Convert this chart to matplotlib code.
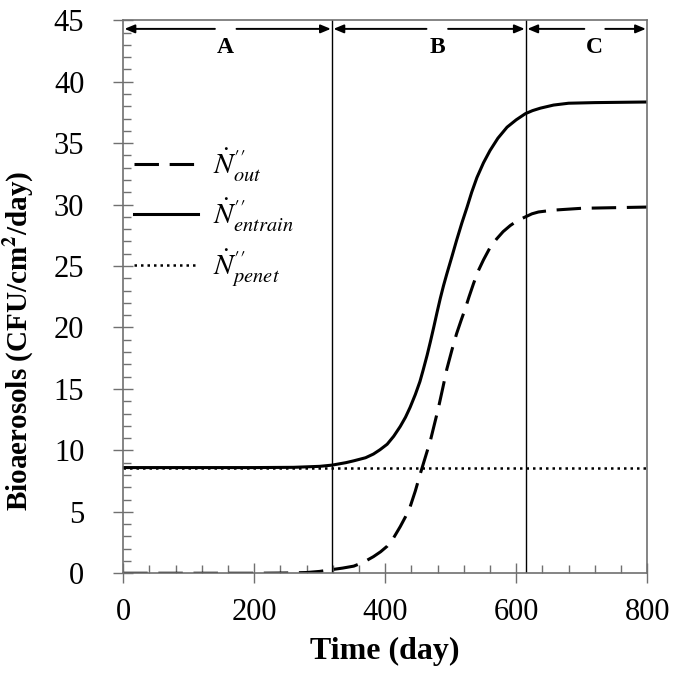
import matplotlib.pyplot as plt
from matplotlib.ticker import MultipleLocator

plt.rcParams['font.family'] = 'Liberation Serif'
plt.rcParams['mathtext.fontset'] = 'stix'

# values
t_entrain = [0, 100, 200, 260, 300, 319, 340, 352, 370, 382, 392, 403, 413, 423, 431, 438, 446,
             453, 458, 464, 469, 474, 479, 484, 489, 494, 502, 509, 517, 525, 532, 540, 550, 560,
             572, 586, 600, 614, 625, 637, 657, 680, 720, 800]
n_entrain = [8.6, 8.6, 8.6, 8.62, 8.7, 8.8, 9.0, 9.15, 9.4, 9.7, 10.05, 10.5, 11.15, 11.95, 12.7,
             13.5, 14.55, 15.6, 16.55, 17.75, 18.85, 20.0, 21.2, 22.35, 23.4, 24.35, 25.8, 27.1, 28.5,
             29.8, 31.0, 32.2, 33.4, 34.4, 35.4, 36.3, 36.9, 37.4, 37.65, 37.85, 38.1, 38.25, 38.3, 38.35]

t_out = [0, 100, 200, 250, 280, 300, 319, 335, 352, 367, 382, 393, 403, 413, 423, 431, 438, 446,
         453, 461, 469, 475, 481, 488, 494, 502, 509, 516, 522, 528, 535, 542, 550, 560, 570,
         580, 591, 602, 614, 624, 634, 657, 700, 750, 800]
n_out = [0, 0, 0, 0.02, 0.06, 0.15, 0.3, 0.42, 0.58, 0.9, 1.35, 1.75, 2.2, 2.9, 3.8, 4.6, 5.4,
         6.7, 8.0, 9.4, 10.8, 12.1, 13.4, 15.1, 16.6, 18.2, 19.5, 20.6, 21.5, 22.5, 23.6, 24.6,
         25.5, 26.5, 27.2, 27.8, 28.3, 28.7, 29.0, 29.25, 29.4, 29.55, 29.7, 29.75, 29.8]

t_penet = [0, 800]
n_penet = [8.6, 8.6]

bounds = [0, 319, 615, 800]
zones = ['A', 'B', 'C']
label_x = [156, 479, 720]
gaps = [(140, 173), (463, 496), (704, 736)]

fig = plt.figure(figsize=(6.77, 6.76), dpi=100)
ax = fig.add_axes([0.182, 0.152, 0.774, 0.818])

ax.plot(t_out, n_out, color='black', lw=2.2, ls=(0, (8, 3.5)), label=r"$\dot{N}^{\prime\prime}_{out}$")
ax.plot(t_entrain, n_entrain, color='black', lw=2.2, label=r"$\dot{N}^{\prime\prime}_{entrain}$")
ax.plot(t_penet, n_penet, color='black', lw=1.8, ls=(0, (1, 1.6)), label=r"$\dot{N}^{\prime\prime}_{penet}$")

for b in bounds[1:3]:
    ax.plot([b, b], [0, 45], color='black', lw=1)

# zone arrows along the top
arrow = dict(arrowstyle='-|>,head_length=0.6,head_width=0.25', color='black', lw=1.4,
             shrinkA=0, shrinkB=0)
for i, z in enumerate(zones):
    g0, g1 = gaps[i]
    ax.annotate('', xy=(bounds[i] + 2, 44.3), xytext=(g0, 44.3), arrowprops=arrow)
    ax.annotate('', xy=(bounds[i + 1] - 2, 44.3), xytext=(g1, 44.3), arrowprops=arrow)
    ax.text(label_x[i], 42.8, z, ha='center', va='center', fontsize=17, fontweight='bold')

ax.set_xlim(0, 800)
ax.set_ylim(0, 45)
ax.xaxis.set_major_locator(MultipleLocator(200))
ax.xaxis.set_minor_locator(MultipleLocator(40))
ax.yaxis.set_major_locator(MultipleLocator(5))
ax.yaxis.set_minor_locator(MultipleLocator(1))
ax.tick_params(which='major', direction='inout', length=14, width=1, color='#707070', labelsize=22)
ax.tick_params(which='minor', direction='in', length=5.5, width=1, color='#707070')
ax.tick_params(axis='x', which='major', pad=11)
ax.tick_params(axis='y', which='major', pad=21)
for s in ax.spines.values():
    s.set_color('#707070')
    s.set_linewidth(1.2)

ax.set_xlabel('Time (day)', fontsize=23, fontweight='bold')
ax.xaxis.set_label_coords(0.5, -0.115)
ax.set_ylabel('Bioaerosols (CFU/cm$^{\\mathbf{2}}$/day)', fontsize=21, fontweight='bold')
ax.yaxis.set_label_coords(-0.166, 0.421)

ax.legend(loc='upper left', bbox_to_anchor=(-0.029, 0.819), frameon=False, fontsize=21,
          handlelength=2.2, labelspacing=0.45, handletextpad=0.5)

fig.savefig('out.png', dpi=100)
